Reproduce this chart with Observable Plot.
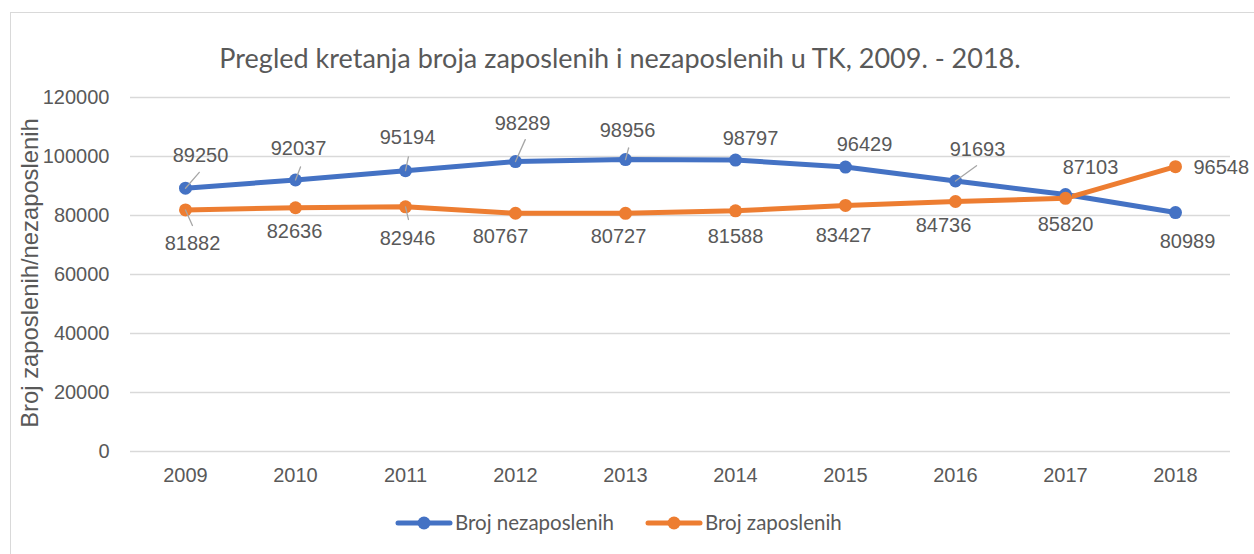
<!DOCTYPE html>
<html><head><meta charset="utf-8">
<script src="https://cdn.jsdelivr.net/npm/d3@7"></script>
<script src="https://cdn.jsdelivr.net/npm/@observablehq/plot@0.6"></script>
<style>
html,body{margin:0;padding:0;background:#fff;overflow:hidden;}
#wrap{position:relative;width:1254px;height:554px;overflow:hidden;background:#fff;}
#frame{position:absolute;left:10px;top:12px;width:1300px;height:600px;border:1.5px solid #d9d9d9;box-sizing:border-box;}
#chart{position:absolute;left:0;top:0;}
#overlay{position:absolute;left:0;top:0;pointer-events:none;}
</style></head>
<body><div id="wrap"><div id="frame"></div><div id="chart"></div><svg id="overlay" width="1254" height="554"></svg></div>
<script>
// ---- data ----
const years = ["2009","2010","2011","2012","2013","2014","2015","2016","2017","2018"];
const nezaposleni = [89250, 92037, 95194, 98289, 98956, 98797, 96429, 91693, 87103, 80989];
const zaposleni   = [81882, 82636, 82946, 80767, 80727, 81588, 83427, 84736, 85820, 96548];
const seriesNames = ["Broj nezaposlenih", "Broj zaposlenih"];
const yTicks = [0, 20000, 40000, 60000, 80000, 100000, 120000];
const titleText = "Pregled kretanja broja zaposlenih i nezaposlenih u TK, 2009. - 2018.";
const yLabel = "Broj zaposlenih/nezaposlenih";

// ---- styling / layout ----
const colors = ["#4472C4", "#ED7D31"];
const textColor = "#595959";
// label nudges in px [dx, dy] (layout only)
const nudgeNez = [[15,-33],[3,-31],[2,-33],[7,-38],[2,-29],[15,-21],[19,-22],[22,-31],[25,-27],[12,29]];
const nudgeZap = [[7,34],[-1,24],[2,32],[-15,23],[-7,23],[0,26],[-2,30],[-12,24],[0,26],[18,1]];
// leader lines [index, angle deg clockwise from up, length px]
const leadersNez = [[0,41,21],[1,21,14],[2,12,14],[3,24,24],[4,15,12],[7,54,26]];
const leadersZap = [[0,156,17],[2,167,13]];

const rows = years.flatMap((yr, i) => [
  {year: yr, value: nezaposleni[i], series: seriesNames[0], i},
  {year: yr, value: zaposleni[i], series: seriesNames[1], i}
]);
const nezRows = rows.filter(d => d.series === seriesNames[0]);
const zapRows = rows.filter(d => d.series === seriesNames[1]);

const lineShape = {draw(ctx, l) { ctx.moveTo(0, 0); ctx.lineTo(0, -l); }};

const labelMarks = [
  ...nezRows.map((d, k) => Plot.text([d], {x: "year", y: "value", text: d => String(d.value),
     dx: nudgeNez[k][0], dy: nudgeNez[k][1], fill: textColor, fontSize: 20})),
  ...zapRows.map((d, k) => Plot.text([d], {x: "year", y: "value", text: d => String(d.value),
     dx: nudgeZap[k][0], dy: nudgeZap[k][1], fill: textColor, fontSize: 20,
     textAnchor: k === zapRows.length - 1 ? "start" : "middle"}))
];
const leaderMarks = [
  ...leadersNez.map(([k, a, l]) => Plot.vector([nezRows[k]], {x: "year", y: "value", rotate: a, length: l,
     anchor: "start", shape: lineShape, stroke: "#a6a6a6", strokeWidth: 1.3})),
  ...leadersZap.map(([k, a, l]) => Plot.vector([zapRows[k]], {x: "year", y: "value", rotate: a, length: l,
     anchor: "start", shape: lineShape, stroke: "#a6a6a6", strokeWidth: 1.3}))
];

const chart = Plot.plot({
  width: 1254, height: 554,
  marginLeft: 130, marginRight: 24, marginTop: 97, marginBottom: 103,
  style: {fontFamily: "'Liberation Sans', Arial, sans-serif", fontSize: "20px", color: textColor, background: "transparent", overflow: "visible"},
  x: {type: "point", domain: years, padding: 0.5, label: null, tickSize: 0, tickPadding: 16},
  y: {domain: [0, 120000], ticks: yTicks, tickFormat: d3.format("d"), label: null, tickSize: 0, tickPadding: 21},
  color: {domain: seriesNames, range: colors},
  marks: [
    Plot.ruleY(yTicks, {stroke: "#d9d9d9", strokeWidth: 1.6}),
    Plot.line(rows, {x: "year", y: "value", stroke: "series", z: "series", strokeWidth: 5, strokeLinejoin: "round"}),
    Plot.dot(rows, {x: "year", y: "value", fill: "series", r: 6.5}),
    ...leaderMarks,
    ...labelMarks
  ]
});
document.getElementById("chart").appendChild(chart);

// ---- overlay: title, y label, legend ----
const ov = d3.select("#overlay");
ov.append("text").attr("x", 620).attr("y", 68).attr("text-anchor", "middle")
  .attr("font-family", "Lato, 'Open Sans', sans-serif").attr("font-size", 27).attr("fill", textColor)
  .text(titleText);
ov.append("text").attr("transform", "translate(38,273) rotate(-90)").attr("text-anchor", "middle")
  .attr("font-family", "'Liberation Sans', Arial, sans-serif").attr("font-size", 23.8).attr("fill", textColor)
  .text(yLabel);
const legendX = [398, 648], legendY = 523;
seriesNames.forEach((name, k) => {
  const g = ov.append("g").attr("transform", `translate(${legendX[k]},${legendY})`);
  g.append("line").attr("x1", 0).attr("x2", 52).attr("stroke", colors[k]).attr("stroke-width", 5).attr("stroke-linecap", "round");
  g.append("circle").attr("cx", 26).attr("r", 6.5).attr("fill", colors[k]);
  g.append("text").attr("x", 57).attr("y", 7).attr("font-family", "Lato, sans-serif").attr("font-size", 20.5)
    .attr("fill", textColor).text(name);
});
</script>
</body></html>
